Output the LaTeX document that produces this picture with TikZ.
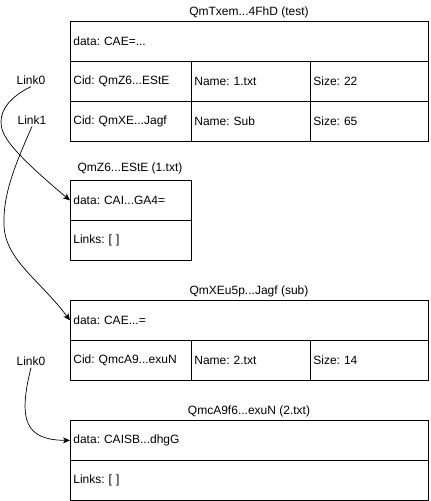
\documentclass[tikz,border=0pt]{standalone}
\usepackage{fontspec}
\setmainfont{Liberation Sans}
\usetikzlibrary{arrows.meta}
\usetikzlibrary{positioning}
\frenchspacing

\tikzset{
  cell/.style={draw, line width=0.8pt, anchor=north west, minimum height=40pt,
    inner xsep=3pt, inner ysep=0pt, align=left, text width=#1},
  heading/.style={inner sep=0pt},
  linkname/.style={inner sep=2pt},
  link/.style={-{Stealth[length=7pt, width=6pt, inset=2pt]}, line width=0.7pt}
}

\begin{document}
\begin{tikzpicture}[x=1pt, y=-1pt, every node/.style={font=\fontsize{12}{14.4}\selectfont}]
    \useasboundingbox (0, 0) rectangle (431, 501);

    % root object
    \node [heading] (ttitle) at (249, 12) {QmTxem...4FhD (test)};
    \node [cell=352pt] (tdata) at (70, 21) {data: CAE=...};
    \node [cell=115pt] (tcida) at (70, 61) {Cid: QmZ6...EStE};
    \node [cell=113pt] (tnamea) at (191, 61) {Name: 1.txt};
    \node [cell=112pt] (tsizea) at (310, 61) {Size: 22};
    \node [cell=115pt] (tcidb) at (70, 101) {Cid: QmXE...Jagf};
    \node [cell=113pt] (tnameb) at (191, 101) {Name: Sub};
    \node [cell=112pt] (tsizeb) at (310, 101) {Size: 65};

    % file 1.txt
    \node [heading] (ftitle) at (130, 168) {QmZ6...EStE (1.txt)};
    \node [cell=115pt] (fdata) at (70, 180) {data: CAI...GA4=};
    \node [cell=115pt] (flinks) at (70, 220) {Links: [ ]};

    % sub directory
    \node [heading] (stitle) at (249, 291) {QmXEu5p...Jagf (sub)};
    \node [cell=352pt] (sdata) at (70, 300) {data: CAE...=};
    \node [cell=115pt] (scid) at (70, 340) {Cid: QmcA9...exuN};
    \node [cell=113pt] (sname) at (191, 340) {Name: 2.txt};
    \node [cell=112pt] (ssize) at (310, 340) {Size: 14};

    % file 2.txt
    \node [heading] (btitle) at (249, 411) {QmcA9f6...exuN (2.txt)};
    \node [cell=352pt] (bdata) at (70, 420) {data: CAISB...dhgG};
    \node [cell=352pt] (blinks) at (70, 460) {Links: [ ]};

    % links
    \node [linkname] (tlinka) at (31, 80) {Link0};
    \node [linkname] (tlinkb) at (32, 120) {Link1};
    \node [linkname] (slinka) at (31, 361) {Link0};

    \draw [link] (tlinka.south) .. controls (12, 96) and (1, 108) .. (1, 122)
      .. controls (1, 135) and (10, 150) .. (fdata.west);
    \draw [link] (tlinkb.south) .. controls (14, 167) and (3, 195) .. (4, 225)
      .. controls (5, 260) and (40, 280) .. (sdata.west);
    \draw [link] (slinka.south) .. controls (18, 420) and (25, 440) .. (bdata.west);
  \end{tikzpicture}
\end{document}
